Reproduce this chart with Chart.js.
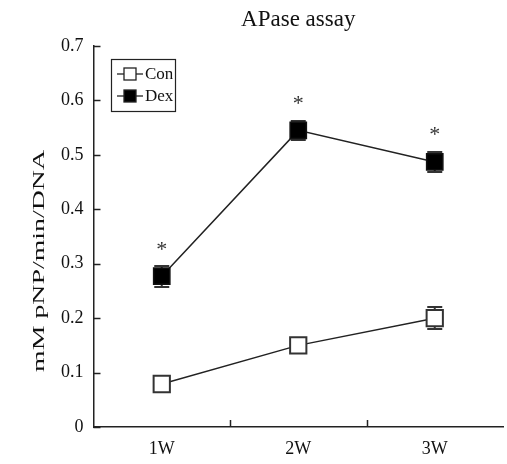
<!DOCTYPE html>
<html><head><meta charset="utf-8">
<script src="https://cdn.jsdelivr.net/npm/chart.js@4/dist/chart.umd.min.js"></script>
<style>html,body{margin:0;padding:0;background:#fff}#wrap{width:507px;height:464px}</style>
</head><body><div id="wrap"><canvas id="c" width="507" height="464"></canvas></div>
<script>
const categories = ["1W", "2W", "3W"];
const conValues = [0.079, 0.150, 0.200];
const conErrors = [0.004, 0.005, 0.020];
const dexValues = [0.277, 0.545, 0.487];
const dexErrors = [0.019, 0.018, 0.019];
const dexSignificant = [true, true, true];
const yTicks = [0, 0.1, 0.2, 0.3, 0.4, 0.5, 0.6, 0.7];
const yTitle = 'mM pNP/min/DNA';
const chartTitle = 'APase assay';

const FONT = "'Liberation Serif', 'Times New Roman', serif";
const INK = '#222';

const decorations = {
  id: 'decorations',
  beforeDatasetsDraw(chart) {
    const ctx = chart.ctx, y = chart.scales.y;
    const errs = [conErrors, dexErrors];
    ctx.save();
    ctx.strokeStyle = '#333';
    ctx.lineWidth = 2;
    chart.data.datasets.forEach((ds, di) => {
      const meta = chart.getDatasetMeta(di);
      meta.data.forEach((pt, i) => {
        const v = ds.data[i], e = errs[di][i];
        const top = Math.round(y.getPixelForValue(v + e)), bot = Math.round(y.getPixelForValue(v - e));
        ctx.beginPath();
        ctx.moveTo(pt.x, top); ctx.lineTo(pt.x, bot);
        ctx.moveTo(pt.x - 7.5, top); ctx.lineTo(pt.x + 7.5, top);
        ctx.moveTo(pt.x - 7.5, bot); ctx.lineTo(pt.x + 7.5, bot);
        ctx.stroke();
      });
    });
    ctx.restore();
  },
  afterDatasetsDraw(chart) {
    const ctx = chart.ctx, y = chart.scales.y;
    const meta = chart.getDatasetMeta(1);
    ctx.save();
    ctx.fillStyle = '#333';
    ctx.font = '22px ' + FONT;
    ctx.textAlign = 'center';
    ctx.textBaseline = 'middle';
    meta.data.forEach((pt, i) => {
      if (!dexSignificant[i]) return;
      const top = y.getPixelForValue(dexValues[i] + dexErrors[i]);
      ctx.fillText('*', pt.x, top - 16);
    });
    ctx.restore();
  },
  afterDraw(chart) {
    const ctx = chart.ctx, x = chart.scales.x, y = chart.scales.y, area = chart.chartArea;
    ctx.save();
    ctx.strokeStyle = INK;
    ctx.lineWidth = 1.5;
    yTicks.forEach(v => {
      const py = Math.round(y.getPixelForValue(v)) + 0.5;
      ctx.beginPath();
      ctx.moveTo(area.left, py);
      ctx.lineTo(area.left + 7, py);
      ctx.stroke();
    });
    for (let i = 0; i < categories.length - 1; i++) {
      const px = Math.round((x.getPixelForValue(i) + x.getPixelForValue(i + 1)) / 2) + 0.5;
      ctx.beginPath();
      ctx.moveTo(px, area.bottom);
      ctx.lineTo(px, area.bottom - 7);
      ctx.stroke();
    }
    // y-axis title
    ctx.save();
    ctx.translate(40, 261);
    ctx.rotate(-Math.PI / 2);
    ctx.font = '17px ' + FONT;
    ctx.fillStyle = '#111';
    ctx.textAlign = 'center';
    ctx.textBaseline = 'middle';
    const w = ctx.measureText(yTitle).width;
    ctx.scale(222 / w, 1);
    ctx.fillText(yTitle, 0, 0);
    ctx.restore();
    // legend
    const lx = area.left + 17.5, ly = area.top + 13, lw = 64, lh = 52;
    ctx.lineWidth = 1.2;
    ctx.strokeStyle = INK;
    ctx.strokeRect(lx + 0.5, ly + 0.5, lw, lh);
    const rows = [{label: 'Con', fill: '#fff'}, {label: 'Dex', fill: '#000'}];
    rows.forEach((r, i) => {
      const cy = ly + 15 + i * 22;
      ctx.lineWidth = 1.3;
      ctx.beginPath();
      ctx.moveTo(lx + 6, cy); ctx.lineTo(lx + 32, cy);
      ctx.stroke();
      ctx.fillStyle = r.fill;
      ctx.fillRect(lx + 13, cy - 6, 12, 12);
      ctx.strokeRect(lx + 13, cy - 6, 12, 12);
      ctx.fillStyle = '#111';
      ctx.font = '17px ' + FONT;
      ctx.textAlign = 'left';
      ctx.textBaseline = 'middle';
      ctx.fillText(r.label, lx + 34, cy + 1);
    });
    ctx.restore();
  }
};

new Chart(document.getElementById('c'), {
  type: 'line',
  plugins: [decorations],
  data: {
    labels: categories,
    datasets: [
      {
        label: 'Con', data: conValues,
        borderColor: INK, borderWidth: 1.5,
        pointStyle: 'rect', pointRadius: 11.5, pointHoverRadius: 11.5,
        pointBackgroundColor: '#fff', pointBorderColor: '#333', pointBorderWidth: 2,
        tension: 0
      },
      {
        label: 'Dex', data: dexValues,
        borderColor: INK, borderWidth: 1.5,
        pointStyle: 'rect', pointRadius: 11.5, pointHoverRadius: 11.5,
        pointBackgroundColor: '#000', pointBorderColor: '#111', pointBorderWidth: 1.5,
        tension: 0
      }
    ]
  },
  options: {
    responsive: false,
    animation: false,
    events: [],
    layout: { autoPadding: false, padding: { left: 0, right: 4, top: 0, bottom: 0 } },
    plugins: {
      legend: { display: false },
      tooltip: { enabled: false },
      title: {
        display: true, text: chartTitle, fullSize: false,
        color: '#111', font: { family: FONT, size: 23, weight: 'normal' },
        padding: { top: 6, bottom: 12.4 }
      }
    },
    scales: {
      x: {
        type: 'category', offset: true,
        grid: { display: false, drawTicks: false },
        border: { display: true, color: INK, width: 1.5 },
        ticks: { color: '#111', font: { family: FONT, size: 18 }, padding: 11 },
        afterFit(scale) { scale.paddingLeft = 0; scale.paddingRight = 0; scale.height = 37; }
      },
      y: {
        min: 0, max: 0.7,
        afterBuildTicks(scale) { scale.ticks = yTicks.map(v => ({ value: v })); },
        grid: { display: false, drawTicks: false },
        border: { display: true, color: INK, width: 1.5 },
        ticks: {
          color: '#111', font: { family: FONT, size: 18 }, padding: 10,
          callback: v => (v === 0 ? '0' : v.toFixed(1))
        },
        afterFit(scale) { scale.width = 93.5; }
      }
    }
  }
});
</script></body></html>
